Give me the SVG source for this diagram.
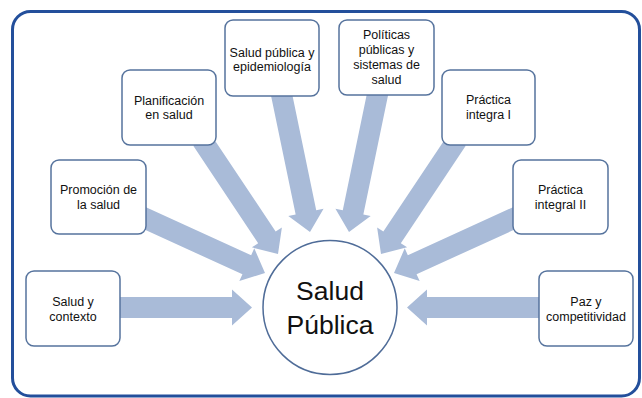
<svg xmlns="http://www.w3.org/2000/svg" width="642" height="398" viewBox="0 0 642 398">
<style>
.frame{fill:#ffffff;stroke:#234f9b;stroke-width:3}
.box{fill:#ffffff;stroke:#56739d;stroke-width:1.5}
.arr{fill:#a9bbd8;stroke:none}
.t{font-family:"Liberation Sans",Arial,sans-serif;font-size:12.5px;fill:#111;text-anchor:middle}
.big{font-family:"Liberation Sans",Arial,sans-serif;font-size:26.5px;fill:#111;text-anchor:middle}
</style>
<rect width="642" height="398" fill="#ffffff"/>
<rect class="frame" x="12.5" y="11.5" width="627" height="384.5" rx="18" ry="18"/>
<g id="connectors">
<polygon class="arr" points="118,297 232,297 232,289.5 252,307.5 232,325.5 232,318 118,318"/>
<polygon class="arr" points="135.64,225.55 242.44,274.25 239.33,281.08 265,273 254.27,248.32 251.16,255.15 144.36,206.45"/>
<polygon class="arr" points="193.26,145.82 258.17,243.18 251.93,247.35 278,254 281.89,227.38 275.65,231.54 210.74,134.18"/>
<polygon class="arr" points="270.72,94.13 295.66,214.55 288.31,216.07 310,232 323.57,208.77 316.22,210.29 291.28,89.87"/>
<polygon class="arr" points="388.28,94.13 363.34,214.55 370.69,216.07 349,232 335.43,208.77 342.78,210.29 367.72,89.87"/>
<polygon class="arr" points="465.74,145.82 400.83,243.18 407.07,247.35 381,254 377.11,227.38 383.35,231.54 448.26,134.18"/>
<polygon class="arr" points="523.36,225.55 416.56,274.25 419.67,281.08 394,273 404.73,248.32 407.84,255.15 514.64,206.45"/>
<polygon class="arr" points="541,297 427,297 427,289.5 407,307.5 427,325.5 427,318 541,318"/>
</g>
<g id="salud-publica">
<circle cx="330" cy="307.5" r="67" fill="#ffffff" stroke="#4f6c98" stroke-width="1.5"/>
<text class="big" x="330" y="300">Salud</text>
<text class="big" x="330" y="334">Pública</text>
</g>
<g id="salud-contexto">
<rect class="box" x="26" y="271" width="94" height="75" rx="8"/>
<text class="t" x="73" y="306">Salud y</text>
<text class="t" x="73" y="320.5">contexto</text>
</g>
<g id="promocion">
<rect class="box" x="51" y="160" width="95" height="74" rx="8"/>
<text class="t" x="98.5" y="194">Promoción de</text>
<text class="t" x="98.5" y="209">la salud</text>
</g>
<g id="planificacion">
<rect class="box" x="122" y="70" width="94" height="75" rx="8"/>
<text class="t" x="169" y="104.5">Planificación</text>
<text class="t" x="169" y="119">en salud</text>
</g>
<g id="salud-publica-epi">
<rect class="box" x="225" y="20" width="94" height="76" rx="8"/>
<text class="t" x="272" y="57">Salud pública y</text>
<text class="t" x="272" y="71">epidemiología</text>
</g>
<g id="politicas">
<rect class="box" x="339" y="20" width="95" height="75" rx="8"/>
<text class="t" x="386.5" y="39">Políticas</text>
<text class="t" x="386.5" y="54">públicas y</text>
<text class="t" x="386.5" y="69">sistemas de</text>
<text class="t" x="386.5" y="84">salud</text>
</g>
<g id="practica-1">
<rect class="box" x="442" y="70" width="93" height="75" rx="8"/>
<text class="t" x="488.5" y="104">Práctica</text>
<text class="t" x="488.5" y="119">integra I</text>
</g>
<g id="practica-2">
<rect class="box" x="513" y="160" width="95" height="74" rx="8"/>
<text class="t" x="560.5" y="194">Práctica</text>
<text class="t" x="560.5" y="209">integral II</text>
</g>
<g id="paz">
<rect class="box" x="539" y="271" width="94" height="75" rx="8"/>
<text class="t" x="586" y="306">Paz y</text>
<text class="t" x="586" y="320.5">competitividad</text>
</g>
</svg>
